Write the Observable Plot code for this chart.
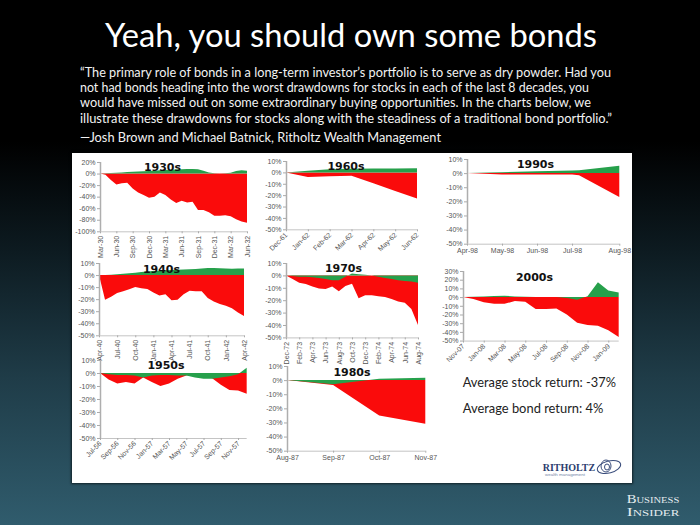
<!DOCTYPE html>
<html><head><meta charset="utf-8">
<script src="https://cdn.jsdelivr.net/npm/d3@7"></script>
<script src="https://cdn.jsdelivr.net/npm/@observablehq/plot@0.6"></script>
<style>
html,body{margin:0;padding:0;}
body{width:700px;height:525px;overflow:hidden;position:relative;
  background:linear-gradient(to bottom,#000 0%,#000 27%,#0d1b21 48%,#1f3c48 72%,#305c6d 100%);}
#panel{position:absolute;left:72px;top:153px;width:560px;height:330px;background:#fff;box-shadow:0 0 2px 1px rgba(0,0,0,.6);}
.chart{position:absolute;}
.chart svg{overflow:visible;}
#deco{position:absolute;left:0;top:0;}
</style></head><body>
<div id="panel"></div>
<svg id="deco" width="700" height="525"></svg>
<div id="charts"></div>
<script>
// ---------- DATA ----------
const titleText = "Yeah, you should own some bonds";
const quoteLines = [
  "\u201CThe primary role of bonds in a long-term investor\u2019s portfolio is to serve as dry powder. Had you",
  "not had bonds heading into the worst drawdowns for stocks in each of the last 8 decades, you",
  "would have missed out on some extraordinary buying opportunities. In the charts below, we",
  "illustrate these drawdowns for stocks along with the steadiness of a traditional bond portfolio.\u201D",
  "\u2014Josh Brown and Michael Batnick, Ritholtz Wealth Management"
];
const summaryLines = ["Average stock return: -37%", "Average bond return: 4%"];

const labels1930 = ["Mar-30","Jun-30","Sep-30","Dec-30","Mar-31","Jun-31","Sep-31","Dec-31","Mar-32","Jun-32"];
const tickPos1930 = [0,3,6,9,12,15,18,21,24,27];
const stock1930 = [0,-2,-11,-19,-17,-16,-26,-33,-37,-42,-40,-33,-37,-45,-51,-47,-50,-49,-63,-63,-67,-73,-73,-72,-74,-79,-83,-85];
const bond1930  = [0,0.5,1,1.5,2,2.5,3,3.5,4,4.5,5,5.5,6,6.5,7,7.5,8,8,7.5,5,2,0.5,0,0.5,1.5,4.5,5.5,5];
const yTicks1930 = [20,0,-20,-40,-60,-80,-100];

const labels1960 = ["Dec-61","Jan-62","Feb-62","Mar-62","Apr-62","May-62","Jun-62"];
const tickPos1960 = [0,1,2,3,4,5,6];
const stock1960 = [0,-4,-3.5,-3,-9.5,-16.3,-23];
const bond1960  = [0,1.5,2.7,3.2,3.4,3.5,3.6];

const labels1990 = ["Apr-98","May-98","Jun-98","Jul-98","Aug-98"];
const tickPos1990 = [0,1,2,3,4.35];
const t1990 = [0,1,2,3,3.2,4.35];
const stock1990 = [0,-1,-1,-1,-1.5,-17];
const bond1990  = [0,0.7,1.3,1.9,2.1,5.2];

const labels1940 = ["Apr-40","Jul-40","Oct-40","Jan-41","Apr-41","Jul-41","Oct-41","Jan-42","Apr-42"];
const tickPos1940 = [0,3,6,9,12,15,18,21,24];
const stock1940 = [0,-20.5,-18,-15,-13.5,-11.7,-10,-11,-11.5,-14.5,-17,-16,-21,-20.5,-16,-13,-13.5,-13.5,-19,-22,-24,-25.5,-27.5,-31,-34];
const bond1940  = [0,0,0.3,0.6,1,1.5,2,2.5,3,3.3,3.6,3.9,4.2,4.4,4.6,4.8,5,5.4,5.8,5.8,5.6,5.4,5.3,5.4,5.5];

const labels1970 = ["Dec-72","Feb-73","Apr-73","Jun-73","Aug-73","Oct-73","Dec-73","Feb-74","Apr-74","Jun-74","Aug-74"];
const tickPos1970 = [0,2,4,6,8,10,12,14,16,18,20];
const stock1970 = [0,-3,-6,-7,-9,-10.5,-11,-9,-12.7,-8.6,-6.8,-18.5,-16,-16,-16.8,-17.5,-19,-21,-22,-27,-40];
const bond1970  = [0,-0.5,-1,-1,-1.5,-2,-3,-4,-4,-1,1.5,1,0.5,0,-1,-2,-3,-4,-4.5,-5,-6];

const labels2000 = ["Nov-07","Jan-08","Mar-08","May-08","Jul-08","Sep-08","Nov-08","Jan-09"];
const tickPos2000 = [0,2,4,6,8,10,12,14];
const stock2000 = [0,-2.3,-6,-7.7,-7.7,-4.6,-5.4,-13.8,-13.8,-13,-20,-29.6,-32,-33,-38,-46];
const bond2000  = [0,0.3,0.8,1.2,1.5,0.8,0.3,0,0,0,-1,-3,1,17,7.7,5.4];
const yTicks2000 = [30,20,10,0,-10,-20,-30,-40,-50];

const labels1950 = ["Jul-56","Sep-56","Nov-56","Jan-57","Mar-57","May-57","Jul-57","Sep-57","Nov-57"];
const tickPos1950 = [0,2,4,6,8,10,12,14,16];
const stock1950 = [0,-5,-8,-7,-8,-3.5,-7,-10,-8,-4.5,-2,-0.5,-1.5,-4,-9,-13,-13.5,-16];
const bond1950  = [0,-1,-1.5,-1.5,-2,-3.5,-2,-1.5,-1.5,-2,-2,-3.5,-4.5,-4.5,-3.5,-2.5,-1,4];

const labels1980 = ["Aug-87","Sep-87","Oct-87","Nov-87"];
const tickPos1980 = [0,1,2,3];
const stock1980 = [0,-3.5,-25,-31];
const bond1980  = [0,-3,1,1.7];

const yTicksStd = [10,0,-10,-20,-30,-40,-50];

// ---------- LAYOUT / STYLE ----------
const RED = "#fa0b0b", GREEN = "#26a04b";
const idx = a => a.map((_, i) => i);
const decades = [
  {name:"1930s", t: idx(stock1930), stock: stock1930, bond: bond1930, ticks: tickPos1930, labels: labels1930, yTicks: yTicks1930,
   f:{x0:100, x1:247, y0:161.7, y1:231}, tdx:62, tdy:4.5, rot:-90},
  {name:"1960s", t: idx(stock1960), stock: stock1960, bond: bond1960, ticks: tickPos1960, labels: labels1960, yTicks: yTicksStd,
   f:{x0:286, x1:417, y0:161, y1:229.3}, tdx:59.5, tdy:4.5, rot:-45},
  {name:"1990s", t: t1990, stock: stock1990, bond: bond1990, ticks: tickPos1990, labels: labels1990, yTicks: yTicksStd,
   f:{x0:466.7, x1:619, y0:159.3, y1:244}, tdx:68, tdy:5, rot:0},
  {name:"1940s", t: idx(stock1940), stock: stock1940, bond: bond1940, ticks: tickPos1940, labels: labels1940, yTicks: yTicksStd,
   f:{x0:99.3, x1:244.3, y0:263, y1:335.3}, tdx:62, tdy:5.7, rot:-90},
  {name:"1970s", t: idx(stock1970), stock: stock1970, bond: bond1970, ticks: tickPos1970, labels: labels1970, yTicks: yTicksStd,
   f:{x0:285.7, x1:417.7, y0:263.3, y1:337.7}, tdx:57, tdy:5.4, rot:-90},
  {name:"2000s", t: idx(stock2000), stock: stock2000, bond: bond2000, ticks: tickPos2000, labels: labels2000, yTicks: yTicks2000,
   f:{x0:463.3, x1:619, y0:270.7, y1:340.3}, tdx:71, tdy:5.6, rot:-45},
  {name:"1950s", t: idx(stock1950), stock: stock1950, bond: bond1950, ticks: tickPos1950, labels: labels1950, yTicks: yTicksStd,
   f:{x0:100, x1:246.7, y0:360.3, y1:438.3}, tdx:65.5, tdy:4.7, rot:-45},
  {name:"1980s", t: idx(stock1980), stock: stock1980, bond: bond1980, ticks: tickPos1980, labels: labels1980, yTicks: yTicksStd,
   f:{x0:286.7, x1:425, y0:366, y1:450.7}, tdx:64.5, tdy:6, rot:0}
];

const ML = 30, MR = 6, MT = 2, MB = 30;
const host = document.getElementById("charts");
for (const d of decades) {
  const rows = d.t.map((t, i) => ({t, s: d.stock[i], b: d.bond[i]}));
  const fw = d.f.x1 - d.f.x0, fh = d.f.y1 - d.f.y0;
  const ymax = d.yTicks[0], ymin = d.yTicks[d.yTicks.length - 1];
  const tmax = d.t[d.t.length - 1];
  const lab = new Map(d.ticks.map((p, i) => [p, d.labels[i]]));
  const plot = Plot.plot({
    width: fw + ML + MR, height: fh + MT + MB,
    marginLeft: ML, marginRight: MR, marginTop: MT, marginBottom: MB,
    style: {background: "transparent", fontFamily: "'Liberation Sans', Arial, sans-serif", fontSize: "7px", color: "#555", overflow: "visible"},
    x: {domain: [0, tmax], axis: null},
    y: {domain: [ymin, ymax], axis: null},
    marks: [
      Plot.areaY(rows, {x: "t", y1: 0, y2: "s", fill: RED}),
      Plot.areaY(rows, {x: "t", y1: 0, y2: "b", fill: GREEN}),
      Plot.ruleY([ymin], {stroke: "#c4c4c4"}),
      Plot.ruleX([0], {stroke: "#aeaeae", strokeWidth: 1.5}),
      Plot.axisY({ticks: d.yTicks, tickFormat: v => v + "%", label: null, tickSize: 3, tickPadding: 2, stroke: "#aaa", fontSize: 7}),
      Plot.axisX({ticks: d.ticks, tickFormat: v => lab.get(v), label: null, tickRotate: d.rot, tickSize: 2, tickPadding: 2, stroke: "#aaa", fontSize: 7}),
      Plot.text([d.name], {text: v => v, frameAnchor: "top-left", dx: d.tdx, dy: d.tdy, textAnchor: "middle", lineAnchor: "middle",
        fontWeight: "bold", fontSize: 11, fontFamily: "'DejaVu Sans', Verdana, sans-serif", fill: "#111"})
    ]
  });
  const div = document.createElement("div");
  div.className = "chart";
  div.style.left = (d.f.x0 - ML) + "px";
  div.style.top = (d.f.y0 - MT) + "px";
  div.appendChild(plot);
  host.appendChild(div);
}

// ---------- TEXT DECORATION ----------
const deco = d3.select("#deco");
deco.append("text").text(titleText)
  .attr("x", 105).attr("y", 47).attr("textLength", 492).attr("lengthAdjust", "spacingAndGlyphs")
  .attr("fill", "#fff").style("font", "32px Lato, 'Open Sans', sans-serif");
const qBase = [76.5, 92, 107, 122.5, 142];
const qLen = [531, 509, 511, 532, 361];
quoteLines.forEach((line, i) => {
  deco.append("text").text(line)
    .attr("x", 80).attr("y", qBase[i]).attr("textLength", qLen[i]).attr("lengthAdjust", "spacingAndGlyphs")
    .attr("fill", "#f2f2f2").style("font", "13px Lato, 'Open Sans', sans-serif");
});
const sBase = [387.3, 413.3], sLen = [153.3, 140.7];
summaryLines.forEach((line, i) => {
  deco.append("text").text(line)
    .attr("x", 462.7).attr("y", sBase[i]).attr("textLength", sLen[i]).attr("lengthAdjust", "spacingAndGlyphs")
    .attr("fill", "#222").style("font", "13.5px Lato, 'Open Sans', sans-serif");
});
// Ritholtz logo (text + simple swirl)
deco.append("text").text("RITHOLTZ").attr("x", 542.7).attr("y", 471).attr("textLength", 52.5).attr("lengthAdjust", "spacingAndGlyphs")
  .attr("fill", "#2c3d6e").style("font", "bold 10.5px 'Liberation Serif', serif");
deco.append("text").text("wealth management").attr("x", 545).attr("y", 476).attr("textLength", 40).attr("lengthAdjust", "spacingAndGlyphs")
  .attr("fill", "#7387a8").style("font", "4px 'Liberation Sans', sans-serif");
const g = deco.append("g").attr("fill", "none").attr("stroke", "#3a4d7c").attr("stroke-width", 1);
g.append("ellipse").attr("cx", 609).attr("cy", 467).attr("rx", 12).attr("ry", 6).attr("transform", "rotate(-15 609 467)");
g.append("ellipse").attr("cx", 606).attr("cy", 466).attr("rx", 5).attr("ry", 6);
g.append("ellipse").attr("cx", 607).attr("cy", 467).attr("rx", 2.5).attr("ry", 3);
// Business Insider
deco.append("text").text("Business").attr("x", 626.7).attr("y", 503.3).attr("textLength", 52.6).attr("lengthAdjust", "spacingAndGlyphs")
  .attr("fill", "#e6edf0").style("font", "small-caps 12.5px 'Liberation Serif', serif");
deco.append("text").text("Insider").attr("x", 626.7).attr("y", 515.8).attr("textLength", 52.6).attr("lengthAdjust", "spacingAndGlyphs")
  .attr("fill", "#e6edf0").style("font", "small-caps 12.5px 'Liberation Serif', serif");
</script>
</body></html>
